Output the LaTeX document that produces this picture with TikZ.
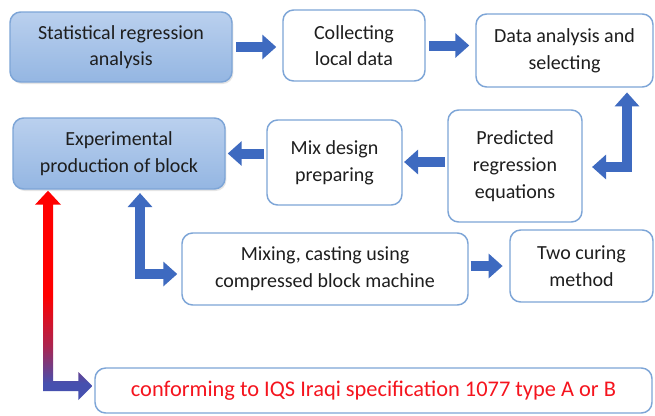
\documentclass[tikz,border=0pt]{standalone}
\usepackage{fontspec}
\setmainfont{Carlito}
\usetikzlibrary{arrows.meta,calc,shadows}
\definecolor{bxborder}{RGB}{125,165,215}
\definecolor{bxtop}{RGB}{186,208,238}
\definecolor{bxbot}{RGB}{148,182,226}
\definecolor{arrblue}{RGB}{62,106,192}
\definecolor{txt}{RGB}{30,30,30}
\definecolor{redtxt}{RGB}{245,20,30}
\definecolor{arrpurple}{RGB}{70,80,175}
\pgfdeclareverticalshading{redblue}{100bp}{color(0bp)=(arrpurple); color(25bp)=(arrpurple); color(29bp)=(arrpurple); color(38bp)=(red!55!arrpurple); color(50bp)=(red); color(75bp)=(red); color(100bp)=(red)}
\begin{document}
\begin{tikzpicture}[x=0.75pt,y=-0.75pt,
  font=\fontsize{15}{20}\selectfont,
  box/.style={draw=bxborder, line width=1.1pt, rounded corners=8pt, fill=white, align=center, text=txt, inner sep=0pt},
  filledbox/.style={box, top color=bxtop, bottom color=bxbot, drop shadow={opacity=0.2, shadow xshift=1pt, shadow yshift=-1.5pt}},
  barrow/.style={draw=arrblue, line width=7.5pt, -{Triangle[width=18pt,length=10.5pt]}},
  dbarrow/.style={draw=arrblue, line width=7.5pt, {Triangle[width=18pt,length=10.5pt]}-{Triangle[width=18pt,length=10.5pt]}}]
\fill[white] (0,0) rectangle (655,415);
\useasboundingbox (0,0) rectangle (655,415);

\node[filledbox, minimum width=166.5pt, minimum height=52.5pt] (b1) at (121,47) {Statistical regression\\analysis};
\node[box, minimum width=106.5pt, minimum height=53.25pt] (b2) at (354,45.5) {Collecting\\local data};
\node[box, minimum width=132.75pt, minimum height=54.75pt] (b3) at (564.5,50.5) {Data analysis and\\selecting};
\node[filledbox, minimum width=159pt, minimum height=53.25pt] (b4) at (119,153.5) {Experimental\\production of block};
\node[box, minimum width=101.25pt, minimum height=63.75pt] (b5) at (334.5,162.5) {Mix design\\preparing};
\node[box, minimum width=100.5pt, minimum height=84pt] (b6) at (515,166) {Predicted\\regression\\equations};
\node[box, minimum width=214.5pt, minimum height=54pt] (b7) at (325,269) {Mixing, casting using\\compressed block machine};
\node[box, minimum width=107.25pt, minimum height=54pt] (b8) at (581.5,266) {Two curing\\method};
\node[box, minimum width=417.75pt, minimum height=33.75pt, text=redtxt, font=\fontsize{16.8}{20}\selectfont] (b9) at (373.5,390.5) {conforming to IQS Iraqi specification 1077 type A or B};

% straight arrows
\draw[barrow, shorten <=2.5pt, shorten >=4.5pt] (b1.east) -- (b1.east -| b2.west);
\draw[barrow, shorten <=2.5pt, shorten >=4.5pt] (b2.east) -- (b2.east -| b3.west);
\draw[barrow, shorten <=2pt, shorten >=1pt] ([yshift=3pt]b6.west) -- ([yshift=3pt]b6.west -| b5.east);
\draw[barrow, shorten <=1.5pt, shorten >=1.5pt] (b4.east -| b5.west) -- (b4.east);
\draw[barrow, shorten <=1.5pt, shorten >=5pt] (b8.west -| b7.east) -- (b8.west);

% elbow arrows
\coordinate (c36) at (627,167);
\draw[dbarrow, shorten <=3.5pt, shorten >=7pt] (c36 |- b3.south) -- (c36) -- (c36 -| b6.east);
\coordinate (c47) at (140,274);
\draw[dbarrow, shorten <=2.5pt, shorten >=3pt] (c47 |- b4.south) -- (c47) -- (c47 -| b7.west);

% red-to-blue arrow
\coordinate (rc) at (48,386);
\coordinate (rt) at (rc |- b4.south);
\coordinate (rr) at (rc -| b9.west);
\shade[shading=redblue]
  ($(rt)+(0,1)$) -- ($(rt)+(13,15)$) -- ($(rt)+(5,15)$) -- ($(rc)+(5,-5)$)
  -- ($(rr)+(-16,-5)$) -- ($(rr)+(-16,-14)$) -- ($(rr)+(-2,0)$) -- ($(rr)+(-16,14)$)
  -- ($(rr)+(-16,5)$) -- ($(rc)+(-5,5)$) -- ($(rt)+(-5,15)$) -- ($(rt)+(-13,15)$) -- cycle;
\end{tikzpicture}
\end{document}
